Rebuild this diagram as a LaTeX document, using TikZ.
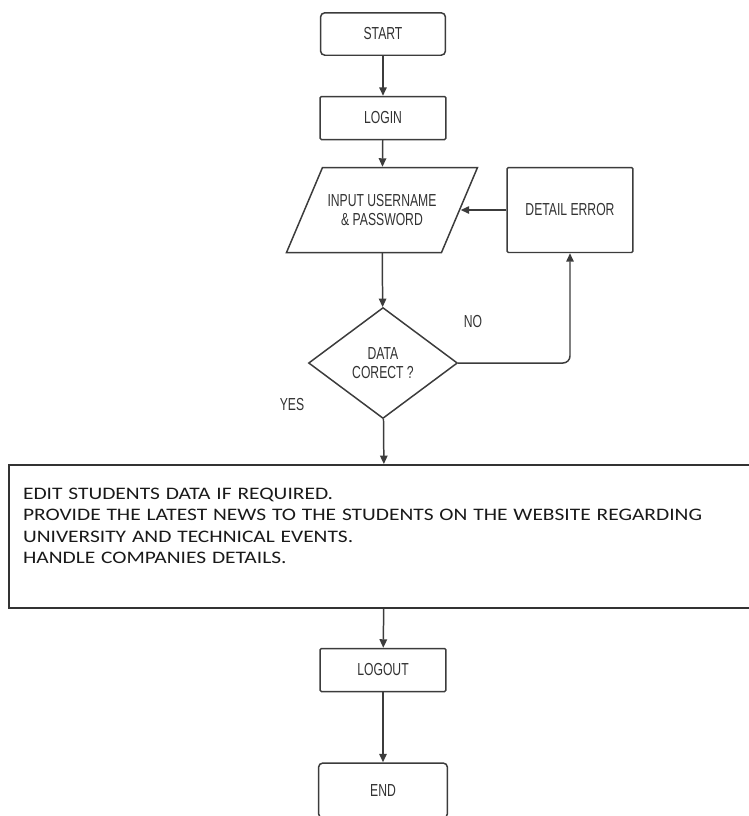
\documentclass[tikz,border=0pt]{standalone}
\usepackage{fontspec}
\usetikzlibrary{shapes.geometric,arrows.meta}
\newfontfamily\chartfont[FakeStretch=0.7]{Liberation Sans}
\newfontfamily\notefont[FakeStretch=1.22]{Carlito}
\definecolor{chartline}{RGB}{60,60,60}
\definecolor{charttext}{RGB}{50,50,50}
\tikzset{
  flow/.style={draw=chartline,line width=0.85pt,text=charttext,font=\chartfont\fontsize{9.9}{11}\selectfont,align=center,inner sep=0pt},
  terminal/.style={flow,rounded corners=2.5pt,minimum width=2.5cm,minimum height=0.85cm},
  process/.style={flow,rounded corners=0.8pt,minimum width=2.52cm,minimum height=0.86cm},
  decision/.style={flow,diamond,minimum width=2.98cm,minimum height=2.22cm},
  link/.style={draw=chartline,line width=0.85pt,-{Triangle[length=1.7mm,width=1.5mm]}},
  branch/.style={text=charttext,font=\chartfont\fontsize{9.9}{11}\selectfont}
}
\begin{document}
\begin{tikzpicture}[x=0.02cm,y=-0.02cm]
\useasboundingbox (0,0) rectangle (749,816);
\clip (0,0) rectangle (749,816);
% boxes of the chart
\node[terminal] (start) at (383,34) {START};
\node[process] (login) at (383,118) {LOGIN};
\node[flow,draw=none,minimum width=3.12cm,minimum height=1.7cm] (input) at (382,210) {INPUT USERNAME\\\& PASSWORD};
\draw[flow] (input.center) ++(-59.5,-42.5) -- ++(155,0) -- ++(-36,85) -- ++(-155,0) -- cycle;
\node[process,minimum height=1.7cm] (error) at (570,210) {DETAIL ERROR};
\node[decision] (check) at (383,363) {DATA\\CORECT ?};
\node[draw=black!80,line width=1.1pt,minimum width=15.02cm,minimum height=2.86cm,inner xsep=0.28cm,
  text width=14.46cm,align=left,font=\notefont\fontsize{10}{12.1}\selectfont,text=black!90] (tasks) at (384.5,536.5)
  {EDIT STUDENTS DATA IF REQUIRED.\\
   PROVIDE THE LATEST NEWS TO THE STUDENTS ON THE WEBSITE REGARDING\\
   UNIVERSITY AND TECHNICAL EVENTS.\\
   HANDLE COMPANIES DETAILS.\\
   \mbox{}};
\node[process] (logout) at (383,670) {LOGOUT};
\node[terminal,minimum width=2.58cm,minimum height=1.1cm] (end) at (383,790.5) {END};
% labels
\node[branch] (no) at (473,322) {NO};
\node[branch] (yes) at (292,405) {YES};
% arrows
\draw[link] (start) -- (login);
\draw[link] (login) -- (input);
\draw[link] (input) -- (check);
\draw[link] (check) -- (tasks);
\draw[link] (tasks) -- (logout);
\draw[link] (logout) -- (end);
\draw[link] (error) -- (input);
\draw[link,rounded corners=4pt] (check.east) -| (error.south);
\end{tikzpicture}
\end{document}
